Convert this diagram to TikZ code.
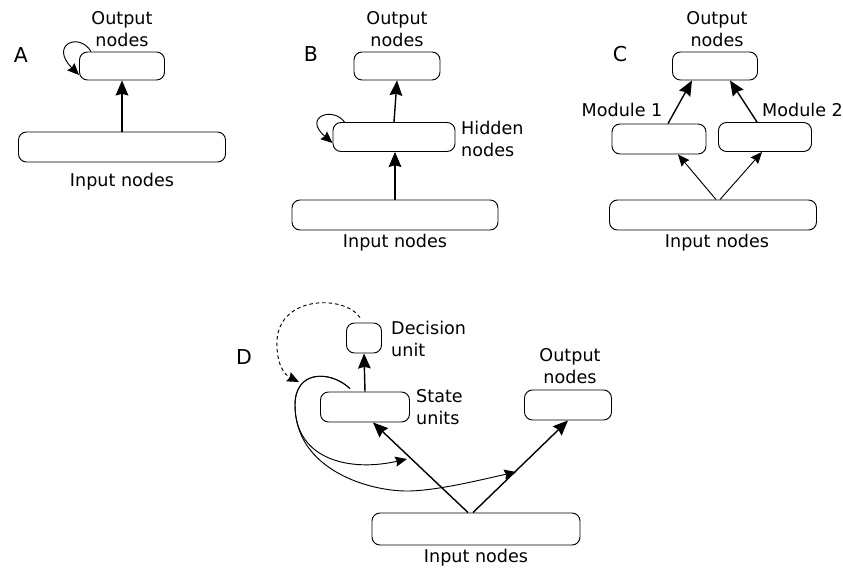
\documentclass[tikz,border=0pt]{standalone}
\usepackage{fontspec}
\setmainfont{DejaVu Sans}
\usetikzlibrary{arrows.meta,calc}

\begin{document}
\begin{tikzpicture}[x=0.3mm,y=-0.3mm,
  font=\fontsize{15pt}{18.8pt}\selectfont,
  box/.style 2 args={draw,line width=0.8pt,rounded corners=2.4mm,minimum width=#1,minimum height=#2,inner sep=0pt},
  lbl/.style={font=\fontsize{17.5pt}{20pt}\selectfont},
  txt/.style={align=center,inner sep=0pt},
  arr/.style={-{Stealth[length=4.5mm,width=3.8mm,inset=0.5mm]},line width=1.2pt},
  arrs/.style={-{Stealth[length=3.5mm,width=3mm,inset=0.4mm]},line width=0.8pt}]
\useasboundingbox (0,0) rectangle (843,572);

% A
\node[lbl] (labA) at (21,55) {A};
\node[box={25.5mm}{8.4mm}] (aout) at (122,66) {};
\node[box={62.1mm}{9mm}] (ain) at (122,147) {};
\node[txt] (aoutt) at (122,29) {Output\\nodes};
\node[txt] (aint) at (122,182) {Input nodes};
\draw[arr] (ain) -- (aout);
\draw[arrs] ($(aout.north west)+(12,0)$) .. controls +(-12,-20) and +(-30,-30) .. ($(aout.west)+(0,9)$);

% B
\node[lbl] (labB) at (311,54) {B};
\node[box={25.8mm}{8.4mm}] (bout) at (397,66) {};
\node[box={36.6mm}{8.7mm}] (bhid) at (394,137) {};
\node[box={61.8mm}{9mm}] (bin) at (395,215) {};
\node[txt] (boutt) at (397,29) {Output\\nodes};
\node[txt,align=left,anchor=west] (bhidt) at (461,139) {Hidden\\nodes};
\node[txt] (bint) at (395,243) {Input nodes};
\draw[arr] (bin.north) -- (bin.north |- bhid.south);
\draw[arr] (bhid.north) -- (bout.south);
\draw[arrs] ($(bhid.north west)+(12,0)$) .. controls +(-12,-16) and +(-30,-26) .. ($(bhid.west)+(0,6)$);

% C
\node[lbl] (labC) at (620,54) {C};
\node[box={25.5mm}{8.4mm}] (cout) at (715,66) {};
\node[box={28.2mm}{9mm}] (cmod1) at (659,139) {};
\node[box={27.9mm}{8.7mm}] (cmod2) at (765,137) {};
\node[box={62.1mm}{9mm}] (cin) at (713,215) {};
\node[txt] (coutt) at (717,29) {Output\\nodes};
\node[txt] (cmod1t) at (622,110) {Module 1};
\node[txt,anchor=west] (cmod2t) at (762,110) {Module 2};
\node[txt] (cint) at (717,243) {Input nodes};
\draw[arr] ($(cmod1.north)+(9,0)$) -- ($(cout.south)+(-23,0)$);
\draw[arr] ($(cmod2.north)+(-8,0)$) -- ($(cout.south)+(15,0)$);
\draw[arrs] ($(cin.north)+(3,0)$) -- ($(cmod1.south)+(19,0)$);
\draw[arrs] ($(cin.north)+(7,0)$) -- ($(cmod2.south)+(-3,0)$);

% D
\node[lbl] (labD) at (244,357) {D};
\node[box={10.5mm}{9mm}] (ddec) at (364,338) {};
\node[box={26.7mm}{9mm}] (dstate) at (365,407) {};
\node[box={26.1mm}{9mm}] (dout) at (568,405) {};
\node[box={62.4mm}{9.6mm}] (din) at (476,529) {};
\node[txt,align=left,anchor=west] (ddect) at (391,339) {Decision\\unit};
\node[txt,align=left,anchor=west] (dstatet) at (416,407) {State\\units};
\node[txt] (doutt) at (570,366) {Output\\nodes};
\node[txt] (dint) at (476,558) {Input nodes};
\draw[arr] (dstate.north) -- (ddec.south);
\draw[arr] ($(din.north)+(-8,0)$) -- ($(dstate.south)+(8,0)$);
\draw[arr] ($(din.north)+(-3,0)$) -- (dout.south);
\coordinate (k1) at (407,459);
\coordinate (k2) at (516,472);
\draw[arrs] ($(dstate.north)+(-15,-3)$) .. controls (330,370) and (295,370) .. (295,405)
  .. controls (295,460) and (350,472) .. (k1);
\draw[arrs] ($(dstate.north)+(-15,-3)$) .. controls (330,370) and (295,370) .. (295,405)
  .. controls (295,470) and (370,492) .. (410,491) .. controls (440,490) and (480,480) .. (k2);
\draw[arrs,dashed,dash pattern=on 3pt off 2.5pt] ($(ddec.north)+(-4,-5)$) .. controls (345,295) and (280,295) .. (277,340)
  .. controls (276,365) and (285,375) .. (299,382);
\end{tikzpicture}
\end{document}
